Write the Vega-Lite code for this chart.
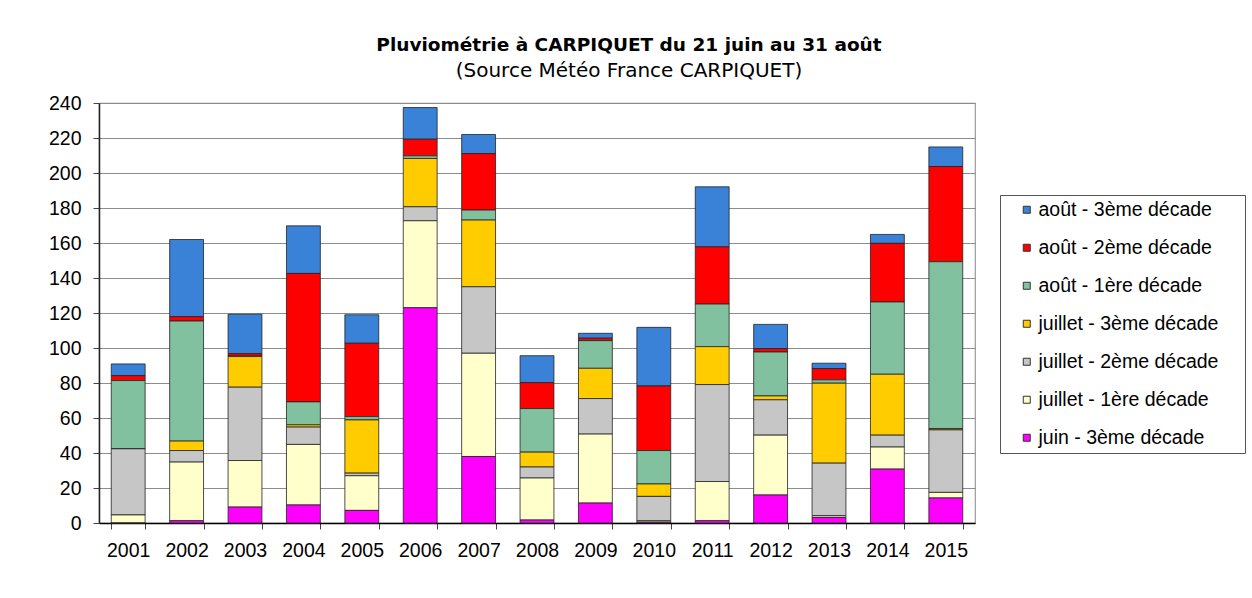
{
  "$schema": "https://vega.github.io/schema/vega-lite/v6.json",
  "width": 876,
  "height": 420,
  "autosize": "none",
  "padding": {"left": 99, "top": 103, "right": 277, "bottom": 75},
  "background": "white",
  "title": {
    "text": "Pluviométrie à CARPIQUET du 21 juin au 31 août",
    "subtitle": "(Source Météo France CARPIQUET)",
    "anchor": "middle",
    "frame": "bounds",
    "dx": -18,
    "font": "DejaVu Sans",
    "fontSize": 18.5,
    "fontWeight": "bold",
    "color": "#000",
    "subtitleFont": "DejaVu Sans",
    "subtitleFontSize": 20,
    "subtitleColor": "#000",
    "subtitlePadding": 7,
    "offset": 12
  },
  "data": {
    "values": [
      {"annee": "2001", "juin - 3ème décade": 0, "juillet - 1ère décade": 4.6, "juillet - 2ème décade": 37.8, "juillet - 3ème décade": 0, "août - 1ère décade": 39, "août - 2ème décade": 2.8, "août - 3ème décade": 6.7},
      {"annee": "2002", "juin - 3ème décade": 1.3, "juillet - 1ère décade": 33.5, "juillet - 2ème décade": 6.6, "juillet - 3ème décade": 5.4, "août - 1ère décade": 68.6, "août - 2ème décade": 2.5, "août - 3ème décade": 44.1},
      {"annee": "2003", "juin - 3ème décade": 9.1, "juillet - 1ère décade": 26.6, "juillet - 2ème décade": 41.9, "juillet - 3ème décade": 17.5, "août - 1ère décade": 0.3, "août - 2ème décade": 1.4, "août - 3ème décade": 22.5},
      {"annee": "2004", "juin - 3ème décade": 10.3, "juillet - 1ère décade": 34.6, "juillet - 2ème décade": 9.9, "juillet - 3ème décade": 1.3, "août - 1ère décade": 13.1, "août - 2ème décade": 73.4, "août - 3ème décade": 27.2},
      {"annee": "2005", "juin - 3ème décade": 7.2, "juillet - 1ère décade": 19.8, "juillet - 2ème décade": 1.5, "juillet - 3ème décade": 30.4, "août - 1ère décade": 1.9, "août - 2ème décade": 41.9, "août - 3ème décade": 16.3},
      {"annee": "2006", "juin - 3ème décade": 123, "juillet - 1ère décade": 49.7, "juillet - 2ème décade": 8, "juillet - 3ème décade": 27.6, "août - 1ère décade": 1.5, "août - 2ème décade": 9.5, "août - 3ème décade": 18.1},
      {"annee": "2007", "juin - 3ème décade": 38, "juillet - 1ère décade": 59, "juillet - 2ème décade": 38, "juillet - 3ème décade": 38.1, "août - 1ère décade": 5.7, "août - 2ème décade": 32.3, "août - 3ème décade": 10.9},
      {"annee": "2008", "juin - 3ème décade": 1.7, "juillet - 1ère décade": 24, "juillet - 2ème décade": 6.3, "juillet - 3ème décade": 8.5, "août - 1ère décade": 24.9, "août - 2ème décade": 14.8, "août - 3ème décade": 15.4},
      {"annee": "2009", "juin - 3ème décade": 11.4, "juillet - 1ère décade": 39.4, "juillet - 2ème décade": 20.3, "juillet - 3ème décade": 17.3, "août - 1ère décade": 15.8, "août - 2ème décade": 1.4, "août - 3ème décade": 2.8},
      {"annee": "2010", "juin - 3ème décade": 0.5, "juillet - 1ère décade": 0.8, "juillet - 2ème décade": 13.9, "juillet - 3ème décade": 7.1, "août - 1ère décade": 19.1, "août - 2ème décade": 36.9, "août - 3ème décade": 33.5},
      {"annee": "2011", "juin - 3ème décade": 1.3, "juillet - 1ère décade": 22.4, "juillet - 2ème décade": 55.4, "juillet - 3ème décade": 21.7, "août - 1ère décade": 24.3, "août - 2ème décade": 32.7, "août - 3ème décade": 34.3},
      {"annee": "2012", "juin - 3ème décade": 16, "juillet - 1ère décade": 34.2, "juillet - 2ème décade": 20.2, "juillet - 3ème décade": 2.2, "août - 1ère décade": 25.1, "août - 2ème décade": 1.9, "août - 3ème décade": 13.9},
      {"annee": "2013", "juin - 3ème décade": 3.2, "juillet - 1ère décade": 1, "juillet - 2ème décade": 30, "juillet - 3ème décade": 45.7, "août - 1ère décade": 1.9, "août - 2ème décade": 6.4, "août - 3ème décade": 3.1},
      {"annee": "2014", "juin - 3ème décade": 30.8, "juillet - 1ère décade": 12.6, "juillet - 2ème décade": 6.8, "juillet - 3ème décade": 34.8, "août - 1ère décade": 41.3, "août - 2ème décade": 33.5, "août - 3ème décade": 5.1},
      {"annee": "2015", "juin - 3ème décade": 14.3, "juillet - 1ère décade": 3.2, "juillet - 2ème décade": 35.7, "juillet - 3ème décade": 0.8, "août - 1ère décade": 95.3, "août - 2ème décade": 54.4, "août - 3ème décade": 11.2}
    ]
  },
  "transform": [
    {"fold": ["août - 3ème décade", "août - 2ème décade", "août - 1ère décade", "juillet - 3ème décade", "juillet - 2ème décade", "juillet - 1ère décade", "juin - 3ème décade"], "as": ["serie", "mm"]},
    {"calculate": "indexof(['août - 3ème décade', 'août - 2ème décade', 'août - 1ère décade', 'juillet - 3ème décade', 'juillet - 2ème décade', 'juillet - 1ère décade', 'juin - 3ème décade'], datum.serie)", "as": "rang"}
  ],
  "mark": {"type": "bar", "stroke": "#222", "strokeWidth": 0.8},
  "encoding": {
    "x": {
      "field": "annee",
      "type": "ordinal",
      "scale": {"paddingInner": 0.42, "paddingOuter": 0.21},
      "axis": {
        "title": null,
        "labelAngle": 0,
        "labelFont": "Liberation Sans",
        "labelFontSize": 19.5,
        "labelColor": "#000",
        "labelPadding": 12,
        "tickBand": "extent",
        "tickSize": 6,
        "tickColor": "#444",
        "domainColor": "#000",
        "domainWidth": 1.5,
        "grid": false
      }
    },
    "y": {
      "field": "mm",
      "type": "quantitative",
      "stack": "zero",
      "scale": {"domain": [0, 240], "nice": false},
      "axis": {
        "title": null,
        "values": [0, 20, 40, 60, 80, 100, 120, 140, 160, 180, 200, 220, 240],
        "labelFont": "Liberation Sans",
        "labelFontSize": 19.5,
        "labelColor": "#000",
        "labelPadding": 12,
        "tickSize": 6,
        "tickColor": "#444",
        "domainColor": "#222",
        "domainWidth": 1.5,
        "grid": true,
        "gridColor": "#8c8c8c",
        "gridWidth": 1.2
      }
    },
    "color": {
      "field": "serie",
      "type": "nominal",
      "scale": {
        "domain": ["août - 3ème décade", "août - 2ème décade", "août - 1ère décade", "juillet - 3ème décade", "juillet - 2ème décade", "juillet - 1ère décade", "juin - 3ème décade"],
        "range": ["#3a82d8", "#ff0000", "#82c19f", "#ffcc00", "#c6c6c6", "#ffffcc", "#ff00ff"]
      },
      "legend": {
        "title": " ",
        "titleOrient": "right",
        "titlePadding": 22,
        "titleFontSize": 10,
        "orient": "none",
        "legendX": 901,
        "legendY": 92,
        "symbolType": "square",
        "symbolSize": 49,
        "symbolStrokeColor": "#333",
        "symbolStrokeWidth": 1,
        "symbolOpacity": 1,
        "symbolOffset": 12,
        "labelFont": "Liberation Sans",
        "labelFontSize": 19.5,
        "labelColor": "#000",
        "labelOffset": 2,
        "labelLimit": 400,
        "rowPadding": 17,
        "padding": 5,
        "strokeColor": "#555",
        "fillColor": "white"
      }
    },
    "order": {"field": "rang", "type": "quantitative", "sort": "descending"}
  },
  "config": {
    "font": "Liberation Sans",
    "view": {"stroke": "#999", "strokeWidth": 1.2}
  }
}
